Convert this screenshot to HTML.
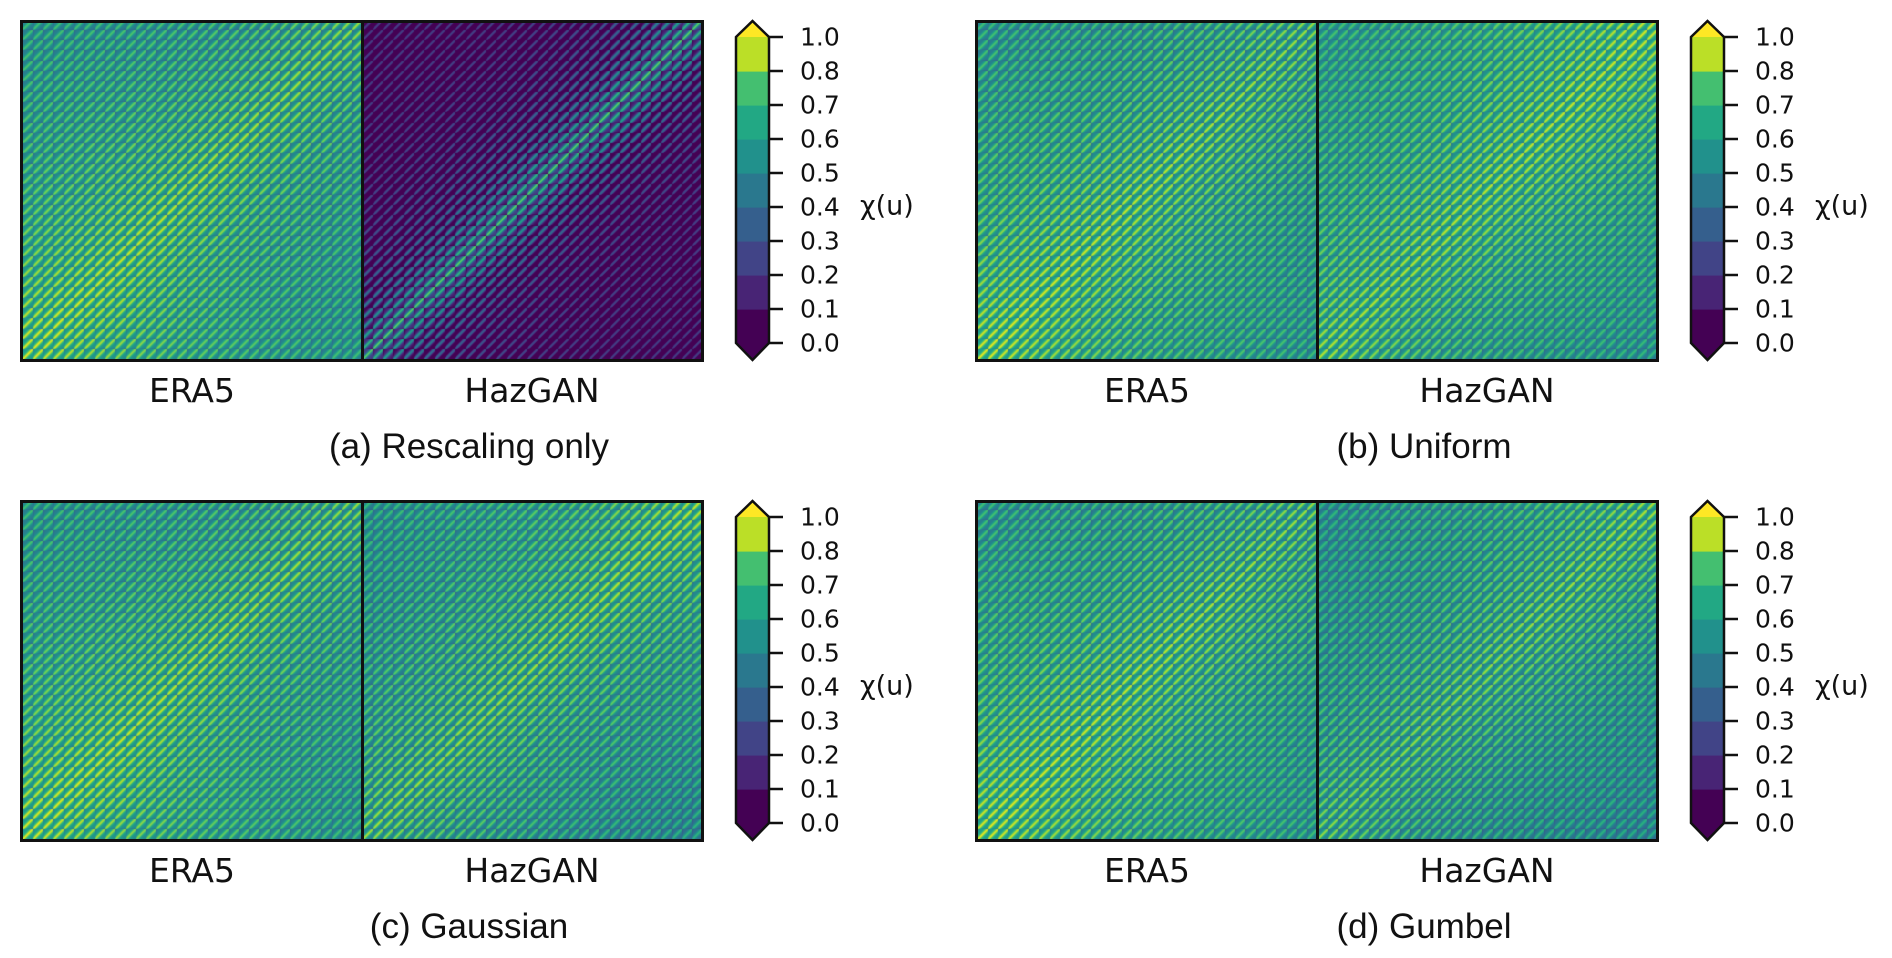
<!DOCTYPE html>
<html><head><meta charset="utf-8">
<style>
body{margin:0;background:#fff;width:1892px;height:958px;overflow:hidden;position:relative;font-family:"DejaVu Sans","Liberation Sans",sans-serif}
.abs{position:absolute}
canvas{position:absolute;display:block}
.frame{position:absolute;border:3px solid #111;box-sizing:border-box}
.lbl{position:absolute;font-size:33px;transform:translateX(-50%);white-space:nowrap;color:#111}
.cap{position:absolute;font-family:"Liberation Sans",sans-serif;font-size:35px;transform:translateX(-50%);white-space:nowrap;color:#111}
.tick{position:absolute;font-size:25px;color:#111;transform:translateY(-50%)}
.chi{position:absolute;font-size:27px;color:#111;transform:translateY(-50%)}
</style></head><body>
<div id="root"></div>
<script>
const panelNames=["(a) Rescaling only","(b) Uniform","(c) Gaussian","(d) Gumbel"];
const halfNames=["ERA5","HazGAN"];
const baseLevels=[[0.66,0.12],[0.66,0.68],[0.66,0.64],[0.66,0.63]];
const stripeAmp=[[0.34,0.5],[0.34,0.32],[0.34,0.34],[0.34,0.32]];
const cbarTicks=[0.0,0.1,0.2,0.3,0.4,0.5,0.6,0.7,0.8,1.0];

const VIR=[[68,1,84],[72,40,120],[62,74,137],[49,104,142],[38,130,142],[31,158,137],[53,183,121],[109,205,89],[180,222,44],[253,231,37]];
function vir(t){t=Math.max(0,Math.min(1,t));const f=t*9,i=Math.min(8,Math.floor(f)),r=f-i;const a=VIR[i],b=VIR[i+1];return [a[0]+(b[0]-a[0])*r,a[1]+(b[1]-a[1])*r,a[2]+(b[2]-a[2])*r];}
const cbarColors=[[68,1,84],[72,36,117],[65,68,135],[53,95,141],[42,120,142],[33,145,140],[34,168,132],[68,191,112],[187,223,39]];
const root=document.getElementById('root');
const colX=[0,955], rowY=[0,480];
function mk(tag,cls,name,css){const e=document.createElement(tag);if(cls)e.className=cls;Object.assign(e.style,css||{});root.appendChild(e);return e;}
for(let p=0;p<4;p++){
  const ox=colX[p%2], oy=rowY[Math.floor(p/2)];
  const L=22+ox, T=22+oy, W=340, H=338;
  for(let h=0;h<2;h++){
    const c=mk('canvas','', '',{left:(L+h*W)+'px',top:T+'px',width:W+'px',height:H+'px'});
    
    
    c.width=W;c.height=H;const ctx=c.getContext('2d');const im=ctx.createImageData(W,H);
    const base=baseLevels[p][h], amp=stripeAmp[p][h];
    const hz=(h==1&&p==0);
    for(let y=0;y<H;y++){const yy=H-1-y;const bj=Math.floor(yy/10.3),rj=yy%10.3;
      for(let x=0;x<W;x++){const bi=Math.floor(x/10.3),ri=x%10.3;
        const db=Math.abs(bi-bj);const dr=ri-rj;
        let stripe=Math.exp(-(dr*dr)/5);
        let diag=Math.exp(-db/(hz?5:16));
        let v=base-0.2+amp*stripe*(0.55+0.45*diag)+(hz?0.35:0.1)*diag;
        if(h==0){v+=0.1*(1-(x+yy)/(W+H))-0.03;}
        else if(!hz){v+=0.05*((x+yy)/(W+H))-0.04*(x/W)*(1-yy/H);}
        v-=0.12*(Math.abs(dr)/10.3)*(1-stripe);
        if(ri<1||rj<1)v-=0.06;
        const col=vir(v);const k=(y*W+x)*4;im.data[k]=col[0];im.data[k+1]=col[1];im.data[k+2]=col[2];im.data[k+3]=255;}}
    ctx.putImageData(im,0,0);
    const lb=mk('div','lbl','',{left:(L+h*W+W/2)+'px',top:(T+H+11)+'px'});
    lb.textContent=halfNames[h];
    
    
  }
  const fr=mk('div','frame','',{left:(L-2)+'px',top:(T-2)+'px',width:(2*W+4)+'px',height:(H+4)+'px'});
  
  
  const dv=mk('div','abs','',{left:(L+W-1)+'px',top:T+'px',width:'3px',height:H+'px',background:'#111'});
  
  
  const cp=mk('div','cap','',{left:(L+W+107)+'px',top:(T+405)+'px'});
  cp.textContent=panelNames[p];
  
  
  const cx=736+ox, ctop=37+oy, cbot=343+oy, cw=33, n=cbarTicks.length-1, seg=(cbot-ctop)/n;
  const ns='http://www.w3.org/2000/svg';
  const svg=document.createElementNS(ns,'svg');svg.setAttribute('width','60');svg.setAttribute('height','360');
  svg.style.position='absolute';svg.style.left=(cx-5)+'px';svg.style.top=(ctop-20)+'px';
  
  
  let s='';const X0=5,Y0=20;
  for(let i=0;i<n;i++){const c=cbarColors[i];
    const y1=Y0+(n-i-1)*seg;s+=`<rect x="${X0}" y="${y1}" width="${cw}" height="${seg+0.6}" fill="rgb(${c})"/>`;}
  s+=`<polygon points="${X0},${Y0} ${X0+cw/2},${Y0-16} ${X0+cw},${Y0}" fill="#fde725"/>`;
  s+=`<polygon points="${X0},${Y0+n*seg} ${X0+cw/2},${Y0+n*seg+17} ${X0+cw},${Y0+n*seg}" fill="#440154"/>`;
  s+=`<polygon points="${X0},${Y0} ${X0+cw/2},${Y0-16} ${X0+cw},${Y0} ${X0+cw},${Y0+n*seg} ${X0+cw/2},${Y0+n*seg+17} ${X0},${Y0+n*seg}" fill="none" stroke="#111" stroke-width="2.5"/>`;
  for(let i=0;i<=n;i++){const y=Y0+(n-i)*seg;s+=`<line x1="${X0+cw}" y1="${y}" x2="${X0+cw+14}" y2="${y}" stroke="#111" stroke-width="2.5"/>`;}
  svg.innerHTML=s;root.appendChild(svg);
  for(let i=0;i<=n;i++){const t=mk('div','tick','',{left:(800+ox)+'px',top:(cbot-i*seg)+'px'});
    t.textContent=cbarTicks[i].toFixed(1);
    
    }
  const ch=mk('div','chi','',{left:(860+ox)+'px',top:(206+oy)+'px'});
  ch.textContent='χ(u)';
  
  
}
</script>
</body></html>
